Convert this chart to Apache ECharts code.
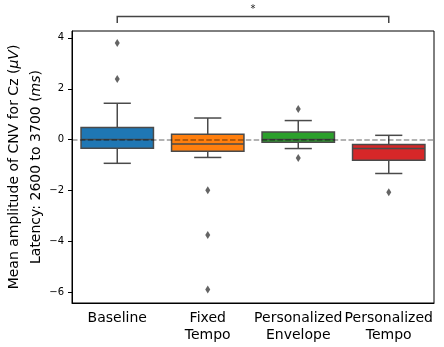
<!DOCTYPE html>
<html lang="en">
<head>
    <meta charset="UTF-8">
    <title>CNV boxplot</title>
    <style>
        html, body { margin: 0; padding: 0; background: #fff; }
        #chart { width: 444px; height: 347px; }
    </style>
</head>
<body>
<div id="chart"></div>
<script type="text/javascript" src="https://cdn.jsdelivr.net/npm/echarts@6/dist/echarts.min.js"></script>
<script type="text/javascript">
    // categories and box stats
    var categories = ['Baseline', 'Fixed\nTempo', 'Personalized\nEnvelope', 'Personalized\nTempo'];
    var whiskerLow = [-0.93, -0.70, -0.35, -1.33];
    var q1 = [-0.34, -0.46, -0.10, -0.81];
    var median = [0.01, -0.17, 0.01, -0.35];
    var q3 = [0.48, 0.21, 0.30, -0.19];
    var whiskerHigh = [1.43, 0.85, 0.75, 0.17];
    // outliers: [category index, value]
    var outliers = [[0, 3.80], [0, 2.38], [1, -1.99], [1, -3.75], [1, -5.89], [2, 1.20], [2, -0.72], [3, -2.07]];
    var boxColors = ['#1f77b4', '#ff7f0e', '#2ca02c', '#d62728'];
    var yTicks = [-6, -4, -2, 0, 2, 4];
    var yMin = -6.42, yMax = 4.27;
    // significance bracket between Baseline and Personalized Tempo
    var sigPairs = [[0, 3, 4.58, 4.84, '*']];

    var edge = '#4a4a4a';
    var boxes = categories.map(function (c, i) {
        return [i, whiskerLow[i], q1[i], median[i], q3[i], whiskerHigh[i]];
    });

    var myChart = echarts.init(document.getElementById('chart'), null, {renderer: 'canvas'});

    var renderBox = function (params, api) {
        var i = api.value(0);
        var x = api.coord([i, 0])[0];
        var band = api.size([1, 0])[0];
        var half = band * 0.4;
        var cap = band * 0.15;
        var yLo = api.coord([i, api.value(1)])[1];
        var yQ1 = api.coord([i, api.value(2)])[1];
        var yMed = api.coord([i, api.value(3)])[1];
        var yQ3 = api.coord([i, api.value(4)])[1];
        var yHi = api.coord([i, api.value(5)])[1];
        var ls = {stroke: edge, lineWidth: 1.5};
        return {
            type: 'group',
            children: [
                {type: 'line', shape: {x1: x, y1: yLo, x2: x, y2: yQ1}, style: ls},
                {type: 'line', shape: {x1: x, y1: yQ3, x2: x, y2: yHi}, style: ls},
                {type: 'line', shape: {x1: x - cap, y1: yLo, x2: x + cap, y2: yLo}, style: ls},
                {type: 'line', shape: {x1: x - cap, y1: yHi, x2: x + cap, y2: yHi}, style: ls},
                {type: 'rect', shape: {x: x - half, y: yQ3, width: half * 2, height: yQ1 - yQ3},
                    style: {fill: boxColors[params.dataIndex], stroke: edge, lineWidth: 1.5}},
                {type: 'line', shape: {x1: x - half, y1: yMed, x2: x + half, y2: yMed}, style: ls}
            ]
        };
    };

    var renderSig = function (params, api) {
        var a = api.coord([api.value(0), api.value(3)]);
        var b = api.coord([api.value(1), api.value(3)]);
        var yb = api.coord([api.value(0), api.value(2)])[1];
        return {
            type: 'group',
            children: [
                {type: 'polyline', shape: {points: [[a[0], yb], [a[0], a[1]], [b[0], b[1]], [b[0], yb]]},
                    style: {stroke: '#444', lineWidth: 1.5, fill: null}},
                {type: 'text', x: (a[0] + b[0]) / 2, y: a[1] - 2,
                    style: {text: sigPairs[params.dataIndex][4], fill: '#222', font: '10px DejaVu Sans',
                        align: 'center', verticalAlign: 'bottom'}}
            ]
        };
    };

    var option = {
        animation: false,
        grid: {left: 72, right: 10, top: 31, bottom: 44, show: true, borderColor: '#000', borderWidth: 1,
            containLabel: false, outerBoundsMode: 'none'},
        xAxis: {
            type: 'category',
            data: categories,
            boundaryGap: true,
            axisLine: {onZero: false, lineStyle: {color: '#000', width: 1}},
            axisTick: {alignWithLabel: true, length: 4, lineStyle: {color: '#000'}},
            axisLabel: {color: '#000', fontSize: 14, fontFamily: 'DejaVu Sans', margin: 7, lineHeight: 17, interval: 0},
            splitLine: {show: false}
        },
        yAxis: {
            type: 'value',
            min: yMin,
            max: yMax,
            axisLine: {show: true, onZero: false, lineStyle: {color: '#000', width: 1}},
            axisTick: {show: true, length: 4, customValues: yTicks, lineStyle: {color: '#000'}},
            axisLabel: {color: '#000', fontSize: 10, fontFamily: 'DejaVu Sans', margin: 8, customValues: yTicks,
                formatter: function (v) { return String(v).replace('-', '\u2212'); }},
            splitLine: {show: false},
            name: 'Mean amplitude of CNV for Cz ({i|\u03bcV})\nLatency: 2600 to 3700 ({i|ms})',
            nameLocation: 'middle',
            nameRotate: 90,
            nameGap: 25,
            nameMoveOverlap: false,
            nameTextStyle: {
                color: '#000', fontSize: 14, fontFamily: 'DejaVu Sans', lineHeight: 22, align: 'center',
                rich: {i: {fontStyle: 'italic', fontSize: 14, fontFamily: 'DejaVu Sans', color: '#000', lineHeight: 22}}
            }
        },
        series: [
            {
                type: 'custom',
                z: 2,
                renderItem: renderBox,
                encode: {x: 0, y: [1, 2, 3, 4, 5]},
                data: boxes
            },
            {
                type: 'scatter',
                z: 3,
                symbol: 'diamond',
                symbolSize: [5, 8],
                itemStyle: {color: '#3d3d3d'},
                data: outliers,
                markLine: {
                    silent: true,
                    symbol: ['none', 'none'],
                    label: {show: false},
                    lineStyle: {color: 'rgba(0,0,0,0.4)', type: [5.5, 2.4], width: 1.5},
                    data: [{yAxis: 0}]
                }
            },
            {
                type: 'custom',
                z: 4,
                clip: false,
                renderItem: renderSig,
                encode: {x: [0, 1], y: [2, 3]},
                data: sigPairs.map(function (p) { return [p[0], p[1], p[2], p[3]]; })
            }
        ]
    };
    myChart.setOption(option);
</script>
</body>
</html>
